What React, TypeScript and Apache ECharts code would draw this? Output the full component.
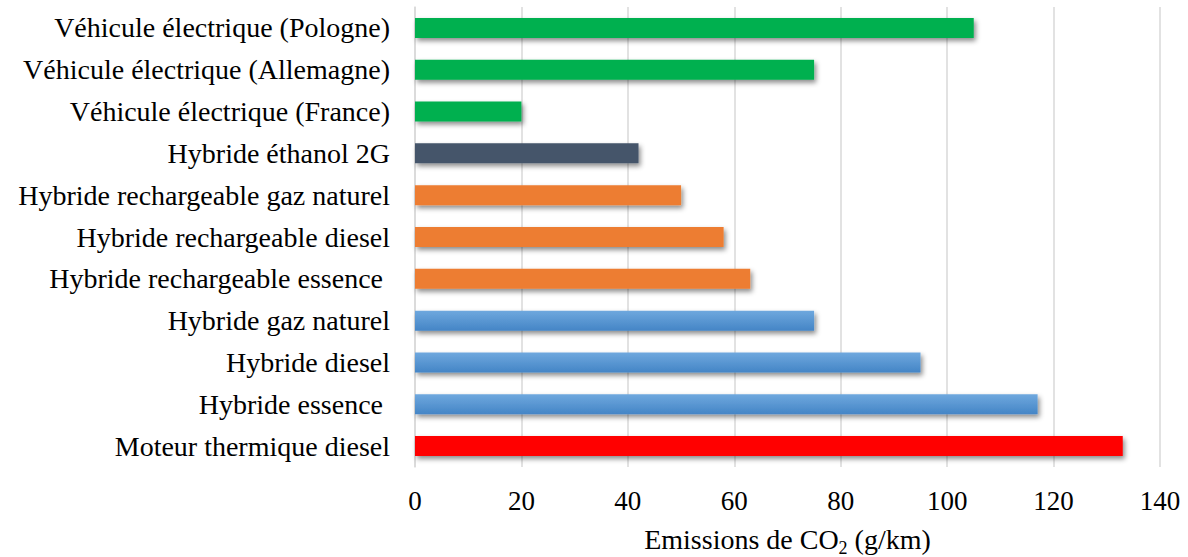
import React, { useEffect, useRef } from "react";
import * as echarts from "echarts";

const categories = [
  "Moteur thermique diesel",
  "Hybride essence ",
  "Hybride diesel",
  "Hybride gaz naturel",
  "Hybride rechargeable essence ",
  "Hybride rechargeable diesel",
  "Hybride rechargeable gaz naturel",
  "Hybride éthanol 2G",
  "Véhicule électrique (France)",
  "Véhicule électrique (Allemagne)",
  "Véhicule électrique (Pologne)",
];
const values = [133, 117, 95, 75, 63, 58, 50, 42, 20, 75, 105];
const groups = ["red", "blue", "blue", "blue", "orange", "orange", "orange", "slate", "green", "green", "green"];
const xTicks = [0, 20, 40, 60, 80, 100, 120, 140];

const FONT = "'Liberation Serif', 'Times New Roman', serif";

function colorFor(g: string): any {
  switch (g) {
    case "red":
      return "#FF0000";
    case "blue":
      return new echarts.graphic.LinearGradient(0, 0, 0, 1, [
        { offset: 0, color: "#6FA8DE" },
        { offset: 1, color: "#4485C6" },
      ]);
    case "orange":
      return "#ED7D31";
    case "slate":
      return "#44546A";
    default:
      return "#00B050";
  }
}

export default function App() {
  const ref = useRef<HTMLDivElement>(null);
  useEffect(() => {
    if (!ref.current) return;
    const chart = echarts.init(ref.current, undefined, { renderer: "svg" });
    chart.setOption({
      animation: false,
      backgroundColor: "#ffffff",
      grid: { left: 415, right: 28, top: 7, height: 460, containLabel: false, outerBoundsMode: "none" },
      xAxis: {
        type: "value",
        min: xTicks[0],
        max: xTicks[xTicks.length - 1],
        interval: 20,
        axisLine: { show: false },
        axisTick: { show: false },
        axisLabel: { color: "#000", fontFamily: FONT, fontSize: 27, margin: 20 },
        splitLine: { show: true, lineStyle: { color: "#D9D9D9", width: 1.5 } },
        name: "{a|Emissions de CO}{s|2}{a| (g/km)}",
        nameLocation: "middle",
        nameGap: 54,
        nameTextStyle: {
          rich: {
            a: { fontFamily: FONT, fontSize: 28, color: "#000" },
            s: { fontFamily: FONT, fontSize: 18, color: "#000", padding: [18, 0, 0, 0] },
          },
        },
      },
      yAxis: {
        type: "category",
        data: categories,
        axisLine: { show: true, lineStyle: { color: "#D9D9D9", width: 1.5 } },
        axisTick: { show: false },
        axisLabel: { color: "#000", fontFamily: FONT, fontSize: 28, margin: 25 },
      },
      series: [
        {
          type: "bar",
          barWidth: 20,
          data: values.map((v, i) => ({
            value: v,
            itemStyle: {
              color: colorFor(groups[i]),
              shadowColor: "rgba(0,0,0,0.45)",
              shadowBlur: 5,
              shadowOffsetX: 2,
              shadowOffsetY: 3,
            },
          })),
        },
      ],
    });
    return () => chart.dispose();
  }, []);
  return <div ref={ref} style={{ width: 1188, height: 557, position: "absolute", left: 0, top: 0 }} />;
}
